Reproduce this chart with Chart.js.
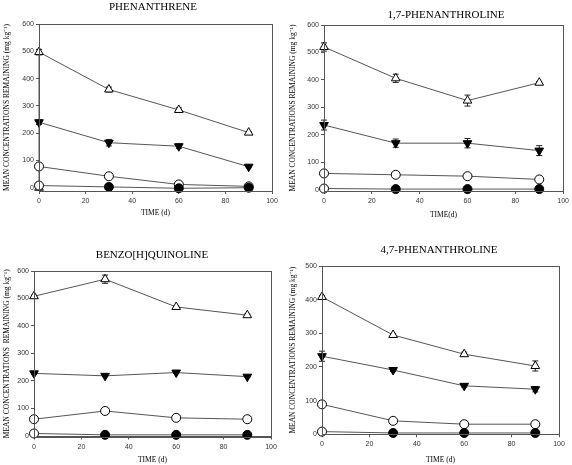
<!DOCTYPE html>
<html>
<head>
<meta charset="utf-8">
<script src="https://cdn.jsdelivr.net/npm/chart.js@4.4.0/dist/chart.umd.min.js"></script>
<style>
    body { margin: 0; background: #fff; }
    #wrap { position: relative; width: 572px; height: 465px; }
    .panel { position: absolute; }
</style>
</head>
<body>
<div id="wrap">
    <div class="panel" style="left:0;top:0;width:286px;height:230px"><canvas id="chartPhen"></canvas></div>
    <div class="panel" style="left:286px;top:0;width:286px;height:230px"><canvas id="chartPhen17"></canvas></div>
    <div class="panel" style="left:0;top:230px;width:286px;height:235px"><canvas id="chartBenzo"></canvas></div>
    <div class="panel" style="left:286px;top:230px;width:286px;height:235px"><canvas id="chartPhen47"></canvas></div>
</div>
<script>
// sampling days and ticks
var days = [0, 30, 60, 90];
var xTicks = [0, 20, 40, 60, 80, 100];
var yTicks600 = [0, 100, 200, 300, 400, 500, 600];
var yTicks500 = [0, 100, 200, 300, 400, 500];

// phenanthrene (first triangle point sits at 0 before jumping up)
var phenTriDays = [0, 0, 30, 60, 90];
var phenTri = [0, 497, 360, 285, 202];
var phenTriErr = [0, 10, 9, 8, 4];
var phenInv = [240, 165, 152, 77];
var phenInvErr = [8, 12, 8, 4];
var phenOpen = [78, 42, 12, 5];
var phenDot = [8, 3, -2, 0];

// 1,7-phenanthroline
var phen17Tri = [520, 406, 325, 390];
var phen17TriErr = [15, 15, 20, 4];
var phen17Inv = [236, 170, 170, 143];
var phen17InvErr = [18, 15, 17, 18];
var phen17Open = [60, 55, 50, 38];
var phen17Dot = [5, 3, 3, 3];

// benzo[h]quinoline
var benzoTri = [508, 570, 469, 439];
var benzoTriErr = [4, 15, 4, 4];
var benzoInv = [227, 218, 230, 215];
var benzoInvErr = [3, 3, 3, 3];
var benzoOpen = [60, 90, 65, 60];
var benzoDot = [8, 3, 3, 3];

// 4,7-phenanthroline
var phen47Tri = [408, 295, 238, 203];
var phen47TriErr = [4, 4, 6, 15];
var phen47Inv = [232, 191, 144, 134];
var phen47InvErr = [15, 4, 4, 8];
var phen47Open = [89, 40, 30, 30];
var phen47Dot = [8, 4, 4, 4];

var Y_LABEL = 'MEAN CONCENTRATIONS REMAINING (mg kg\u207B\u00B9)';

function pts(xs, ys) {
    return ys.map(function (v, i) { return { x: xs[i], y: v }; });
}

var errorBars = {
    id: 'errorBars',
    beforeDatasetsDraw: function (chart) {
        var ctx = chart.ctx;
        var yScale = chart.scales.y;
        ctx.save();
        ctx.strokeStyle = '#222';
        ctx.lineWidth = 1;
        chart.data.datasets.forEach(function (ds, di) {
            if (!ds.errors) return;
            var meta = chart.getDatasetMeta(di);
            meta.data.forEach(function (el, i) {
                var e = ds.errors[i];
                if (!e) return;
                var v = ds.data[i].y;
                var y1 = yScale.getPixelForValue(v + e);
                var y2 = yScale.getPixelForValue(v - e);
                ctx.beginPath();
                ctx.moveTo(el.x, y1); ctx.lineTo(el.x, y2);
                ctx.moveTo(el.x - 3, y1); ctx.lineTo(el.x + 3, y1);
                ctx.moveTo(el.x - 3, y2); ctx.lineTo(el.x + 3, y2);
                ctx.stroke();
            });
        });
        ctx.restore();
    }
};

var frameBox = {
    id: 'frameBox',
    afterDraw: function (chart) {
        var a = chart.chartArea;
        var ctx = chart.ctx;
        ctx.save();
        ctx.strokeStyle = '#555';
        ctx.lineWidth = 1;
        ctx.strokeRect(Math.round(a.left) + 0.5, Math.round(a.top) + 0.5,
            Math.round(a.right - a.left), Math.round(a.bottom - a.top));
        ctx.restore();
    }
};

var panelTitle = {
    id: 'panelTitle',
    afterDraw: function (chart, args, opts) {
        var ctx = chart.ctx;
        ctx.save();
        ctx.font = '11px "Liberation Serif", "Times New Roman", serif';
        ctx.fillStyle = '#000';
        ctx.textAlign = 'center';
        ctx.textBaseline = 'middle';
        ctx.fillText(opts.text, opts.x, opts.y);
        ctx.restore();
    }
};

function seriesSets(triX, tri, triErr, inv, invErr, open, dot) {
    var base = { showLine: true, borderColor: '#555', borderWidth: 1, clip: false,
        pointBorderColor: '#000', pointBorderWidth: 1 };
    var dotFill = dot.map(function (v, i) { return i === 0 ? '#fff' : '#000'; });
    return [
        Object.assign({}, base, { label: 'dot', data: pts(days, dot), pointStyle: 'circle',
            pointRadius: 4.5, pointBackgroundColor: dotFill }),
        Object.assign({}, base, { label: 'cross', data: pts(days.slice(0, 1), dot.slice(0, 1)),
            showLine: false, pointStyle: 'cross', pointRadius: 4.5 }),
        Object.assign({}, base, { label: 'open', data: pts(days, open), pointStyle: 'circle',
            pointRadius: 4.5, pointBackgroundColor: '#fff' }),
        Object.assign({}, base, { label: 'inv', data: pts(days, inv), errors: invErr,
            pointStyle: 'triangle', rotation: 180, pointRadius: 5, pointBackgroundColor: '#000' }),
        Object.assign({}, base, { label: 'tri', data: pts(triX, tri), errors: triErr,
            pointStyle: 'triangle', pointRadius: 5, pointBackgroundColor: '#fff' })
    ];
}

function makePanel(id, cfg) {
    var el = document.getElementById(id);
    el.width = cfg.w; el.height = cfg.h;
    el.style.width = cfg.w + 'px'; el.style.height = cfg.h + 'px';
    var tickFont = { family: '"Liberation Sans", Arial, sans-serif', size: 7 };
    var titleFont = { family: '"Liberation Serif", "Times New Roman", serif', size: 7.5 };
    new Chart(el, {
        type: 'scatter',
        data: { datasets: cfg.sets },
        plugins: [errorBars, frameBox, panelTitle],
        options: {
            responsive: false,
            animation: false,
            layout: { padding: { top: cfg.top, right: cfg.w - cfg.right, left: 0, bottom: 0 } },
            plugins: {
                legend: { display: false },
                tooltip: { enabled: false },
                panelTitle: { text: cfg.title, x: cfg.titleX, y: cfg.titleY }
            },
            scales: {
                x: {
                    type: 'linear', min: 0, max: 100,
                    afterBuildTicks: function (s) { s.ticks = xTicks.map(function (v) { return { value: v }; }); },
                    afterFit: function (s) { s.height = cfg.h - cfg.bottom; },
                    grid: { drawOnChartArea: false, tickLength: 3, color: '#555' },
                    border: { color: '#555' },
                    ticks: { font: tickFont, color: '#333', padding: 3, maxRotation: 0 },
                    title: { display: true, text: cfg.xTitle, font: titleFont, color: '#000',
                        padding: { top: 0, bottom: cfg.xTitlePad } }
                },
                y: {
                    type: 'linear', min: cfg.ymin, max: cfg.ymax,
                    afterBuildTicks: function (s) { s.ticks = cfg.yTicks.map(function (v) { return { value: v }; }); },
                    afterFit: function (s) { s.width = cfg.left; },
                    grid: { drawOnChartArea: false, tickLength: 3, color: '#555' },
                    border: { color: '#555' },
                    ticks: { font: tickFont, color: '#333', padding: 2 },
                    title: { display: true, text: cfg.yTitle || Y_LABEL, font: titleFont, color: '#000',
                        padding: { top: 2.5, bottom: 0 } }
                }
            }
        }
    });
}

makePanel('chartPhen', {
    w: 286, h: 230, left: 39, right: 272, top: 24, bottom: 191, ymin: -12, ymax: 600,
    yTicks: yTicks600, title: 'PHENANTHRENE', titleX: 153, titleY: 7,
    xTitle: 'TIME (d)', xTitlePad: 12,
    sets: seriesSets(phenTriDays, phenTri, phenTriErr, phenInv, phenInvErr, phenOpen, phenDot)
});

makePanel('chartPhen17', {
    w: 286, h: 230, left: 38, right: 279, top: 25, bottom: 191, ymin: -4, ymax: 600,
    yTicks: yTicks600, title: '1,7-PHENANTHROLINE', titleX: 160, titleY: 15,
    xTitle: 'TIME(d)', xTitlePad: 10,
    sets: seriesSets(days, phen17Tri, phen17TriErr, phen17Inv, phen17InvErr, phen17Open, phen17Dot)
});

makePanel('chartBenzo', {
    w: 286, h: 235, left: 34, right: 271, top: 41, bottom: 206.5, ymin: -3, ymax: 600,
    yTicks: yTicks600, title: 'BENZO[H]QUINOLINE', titleX: 152, titleY: 25,
    xTitle: 'TIME (d)', xTitlePad: 0.2,
    yTitle: 'MEAN CONCENTRATIONS  REMAINING (mg kg\u207B\u00B9)',
    sets: seriesSets(days, benzoTri, benzoTriErr, benzoInv, benzoInvErr, benzoOpen, benzoDot)
});

makePanel('chartPhen47', {
    w: 286, h: 235, left: 36, right: 273, top: 36, bottom: 204.3, ymin: 0, ymax: 500,
    yTicks: yTicks500, title: '4,7-PHENANTHROLINE', titleX: 153, titleY: 20,
    xTitle: 'TIME (d)', xTitlePad: 0.2,
    sets: seriesSets(days, phen47Tri, phen47TriErr, phen47Inv, phen47InvErr, phen47Open, phen47Dot)
});
</script>
</body>
</html>
